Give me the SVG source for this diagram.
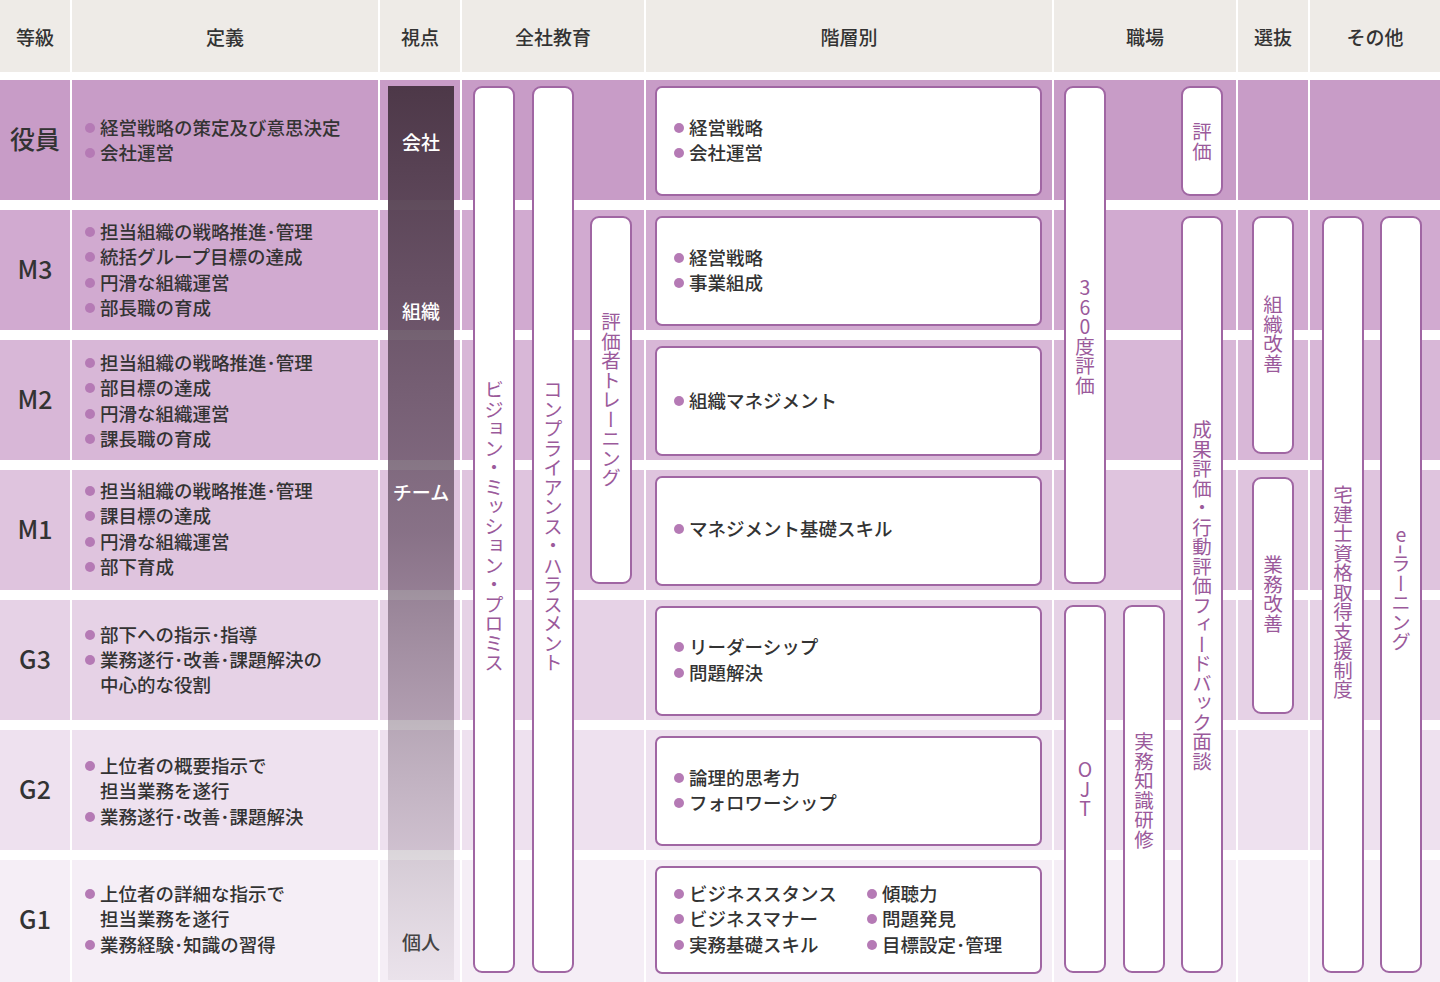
<svg xmlns="http://www.w3.org/2000/svg" width="1440" height="982" viewBox="0 0 1440 982">
<defs>
<style>
text{font-family:"Noto Sans CJK JP","Noto Sans",sans-serif;}
.h{font-size:19px;fill:#333;text-anchor:middle;font-weight:500}
.g{font-size:25px;fill:#333;text-anchor:middle;font-weight:500}
.t{font-size:18.5px;fill:#333;font-weight:500}
.b{fill:#b57ab5}
.w{font-size:19px;fill:#fff;text-anchor:middle;font-weight:500}
.p{fill:#fff;stroke:#a066a3;stroke-width:2}
.v{font-size:19.5px;fill:#9b5a9b;writing-mode:vertical-rl}
.u{text-orientation:upright}
</style>
<linearGradient id="vp" x1="0" y1="0" x2="0" y2="1">
<stop offset="0" stop-color="#4d3848"/>
<stop offset="0.5" stop-color="#6b566a" stop-opacity="0.75"/>
<stop offset="1" stop-color="#8a7a88" stop-opacity="0.1"/>
</linearGradient>
</defs>
<rect width="1440" height="982" fill="#fff"/>
<g id="header" fill="#eeebe7">
<rect x="0" y="0" width="70" height="72"/><rect x="72" y="0" width="306" height="72"/><rect x="380" y="0" width="80" height="72"/><rect x="462" y="0" width="182" height="72"/><rect x="646" y="0" width="406" height="72"/><rect x="1054" y="0" width="182" height="72"/><rect x="1238" y="0" width="70" height="72"/><rect x="1310" y="0" width="130" height="72"/>
</g>
<g id="header-text">
<text class="h" x="35" y="45">等級</text><text class="h" x="225" y="45">定義</text><text class="h" x="420" y="45">視点</text><text class="h" x="553" y="45">全社教育</text><text class="h" x="849" y="45">階層別</text><text class="h" x="1145" y="45">職場</text><text class="h" x="1273" y="45">選抜</text><text class="h" x="1375" y="45">その他</text>
</g>
<g id="rows">
<g fill="#c89cc7"><rect x="0" y="80" width="70" height="120"/><rect x="72" y="80" width="306" height="120"/><rect x="380" y="80" width="80" height="120"/><rect x="462" y="80" width="182" height="120"/><rect x="646" y="80" width="406" height="120"/><rect x="1054" y="80" width="182" height="120"/><rect x="1238" y="80" width="70" height="120"/><rect x="1310" y="80" width="130" height="120"/></g>
<g fill="#d1aad0"><rect x="0" y="210" width="70" height="120"/><rect x="72" y="210" width="306" height="120"/><rect x="380" y="210" width="80" height="120"/><rect x="462" y="210" width="182" height="120"/><rect x="646" y="210" width="406" height="120"/><rect x="1054" y="210" width="182" height="120"/><rect x="1238" y="210" width="70" height="120"/><rect x="1310" y="210" width="130" height="120"/></g>
<g fill="#d8b7d7"><rect x="0" y="340" width="70" height="120"/><rect x="72" y="340" width="306" height="120"/><rect x="380" y="340" width="80" height="120"/><rect x="462" y="340" width="182" height="120"/><rect x="646" y="340" width="406" height="120"/><rect x="1054" y="340" width="182" height="120"/><rect x="1238" y="340" width="70" height="120"/><rect x="1310" y="340" width="130" height="120"/></g>
<g fill="#dfc4de"><rect x="0" y="470" width="70" height="120"/><rect x="72" y="470" width="306" height="120"/><rect x="380" y="470" width="80" height="120"/><rect x="462" y="470" width="182" height="120"/><rect x="646" y="470" width="406" height="120"/><rect x="1054" y="470" width="182" height="120"/><rect x="1238" y="470" width="70" height="120"/><rect x="1310" y="470" width="130" height="120"/></g>
<g fill="#e6d2e6"><rect x="0" y="600" width="70" height="120"/><rect x="72" y="600" width="306" height="120"/><rect x="380" y="600" width="80" height="120"/><rect x="462" y="600" width="182" height="120"/><rect x="646" y="600" width="406" height="120"/><rect x="1054" y="600" width="182" height="120"/><rect x="1238" y="600" width="70" height="120"/><rect x="1310" y="600" width="130" height="120"/></g>
<g fill="#eee1ef"><rect x="0" y="730" width="70" height="120"/><rect x="72" y="730" width="306" height="120"/><rect x="380" y="730" width="80" height="120"/><rect x="462" y="730" width="182" height="120"/><rect x="646" y="730" width="406" height="120"/><rect x="1054" y="730" width="182" height="120"/><rect x="1238" y="730" width="70" height="120"/><rect x="1310" y="730" width="130" height="120"/></g>
<g fill="#f5eef6"><rect x="0" y="860" width="70" height="122"/><rect x="72" y="860" width="306" height="122"/><rect x="380" y="860" width="80" height="122"/><rect x="462" y="860" width="182" height="122"/><rect x="646" y="860" width="406" height="122"/><rect x="1054" y="860" width="182" height="122"/><rect x="1238" y="860" width="70" height="122"/><rect x="1310" y="860" width="130" height="122"/></g>
</g>
<g id="grades">
<text class="g" x="35" y="149">役員</text><text class="g" x="35" y="279">M3</text><text class="g" x="35" y="409">M2</text><text class="g" x="35" y="539">M1</text><text class="g" x="35" y="669">G3</text><text class="g" x="35" y="799">G2</text><text class="g" x="35" y="929">G1</text>
</g>
<g id="definitions">
<g class="b"><circle cx="90" cy="128" r="5"/><circle cx="90" cy="153" r="5"/>
<circle cx="90" cy="232" r="5"/><circle cx="90" cy="257" r="5"/><circle cx="90" cy="283" r="5"/><circle cx="90" cy="308" r="5"/>
<circle cx="90" cy="363" r="5"/><circle cx="90" cy="388" r="5"/><circle cx="90" cy="414" r="5"/><circle cx="90" cy="439" r="5"/>
<circle cx="90" cy="491" r="5"/><circle cx="90" cy="516" r="5"/><circle cx="90" cy="542" r="5"/><circle cx="90" cy="567" r="5"/>
<circle cx="90" cy="635" r="5"/><circle cx="90" cy="660" r="5"/>
<circle cx="90" cy="766" r="5"/><circle cx="90" cy="817" r="5"/>
<circle cx="90" cy="894" r="5"/><circle cx="90" cy="945" r="5"/></g>
<text class="t" x="100" y="135">経営戦略の策定及び意思決定</text><text class="t" x="100" y="160">会社運営</text>
<text class="t" x="100" y="239">担当組織の戦略推進･管理</text><text class="t" x="100" y="264">統括グループ目標の達成</text><text class="t" x="100" y="290">円滑な組織運営</text><text class="t" x="100" y="315">部長職の育成</text>
<text class="t" x="100" y="370">担当組織の戦略推進･管理</text><text class="t" x="100" y="395">部目標の達成</text><text class="t" x="100" y="421">円滑な組織運営</text><text class="t" x="100" y="446">課長職の育成</text>
<text class="t" x="100" y="498">担当組織の戦略推進･管理</text><text class="t" x="100" y="523">課目標の達成</text><text class="t" x="100" y="549">円滑な組織運営</text><text class="t" x="100" y="574">部下育成</text>
<text class="t" x="100" y="642">部下への指示･指導</text><text class="t" x="100" y="667">業務遂行･改善･課題解決の</text><text class="t" x="100" y="692">中心的な役割</text>
<text class="t" x="100" y="773">上位者の概要指示で</text><text class="t" x="100" y="798">担当業務を遂行</text><text class="t" x="100" y="824">業務遂行･改善･課題解決</text>
<text class="t" x="100" y="901">上位者の詳細な指示で</text><text class="t" x="100" y="926">担当業務を遂行</text><text class="t" x="100" y="952">業務経験･知識の習得</text>
</g>
<g id="viewpoint">
<rect x="388" y="86" width="66" height="894" fill="url(#vp)"/>
<text class="w" x="421" y="150">会社</text><text class="w" x="421" y="319">組織</text><text class="w" x="421" y="500">チーム</text><text class="w" x="421" y="950" style="fill:#444">個人</text>
</g>
<g id="company-edu">
<rect class="p" x="474" y="87" width="40" height="885" rx="8"/><text class="v" x="494" y="380">ビジョン・ミッション・プロミス</text>
<rect class="p" x="533" y="87" width="40" height="885" rx="8"/><text class="v" x="553" y="380">コンプライアンス・ハラスメント</text>
<rect class="p" x="591" y="217" width="40" height="366" rx="8"/><text class="v" x="611" y="312">評価者トレーニング</text>
</g>
<g id="tiers">
<rect class="p" x="656" y="87" width="385" height="108" rx="6"/><rect class="p" x="656" y="217" width="385" height="108" rx="6"/><rect class="p" x="656" y="347" width="385" height="108" rx="6"/><rect class="p" x="656" y="477" width="385" height="108" rx="6"/><rect class="p" x="656" y="607" width="385" height="108" rx="6"/><rect class="p" x="656" y="737" width="385" height="108" rx="6"/><rect class="p" x="656" y="867" width="385" height="106" rx="6"/>
<g class="b"><circle cx="679" cy="128" r="5"/><circle cx="679" cy="153" r="5"/><circle cx="679" cy="258" r="5"/><circle cx="679" cy="283" r="5"/><circle cx="679" cy="401" r="5"/><circle cx="679" cy="529" r="5"/><circle cx="679" cy="647" r="5"/><circle cx="679" cy="673" r="5"/><circle cx="679" cy="778" r="5"/><circle cx="679" cy="803" r="5"/><circle cx="679" cy="894" r="5"/><circle cx="679" cy="919" r="5"/><circle cx="679" cy="945" r="5"/><circle cx="872" cy="894" r="5"/><circle cx="872" cy="919" r="5"/><circle cx="872" cy="945" r="5"/></g>
<text class="t" x="689" y="135">経営戦略</text><text class="t" x="689" y="160">会社運営</text>
<text class="t" x="689" y="265">経営戦略</text><text class="t" x="689" y="290">事業組成</text>
<text class="t" x="689" y="408">組織マネジメント</text>
<text class="t" x="689" y="536">マネジメント基礎スキル</text>
<text class="t" x="689" y="654">リーダーシップ</text><text class="t" x="689" y="680">問題解決</text>
<text class="t" x="689" y="785">論理的思考力</text><text class="t" x="689" y="810">フォロワーシップ</text>
<text class="t" x="689" y="901">ビジネススタンス</text><text class="t" x="689" y="926">ビジネスマナー</text><text class="t" x="689" y="952">実務基礎スキル</text>
<text class="t" x="882" y="901">傾聴力</text><text class="t" x="882" y="926">問題発見</text><text class="t" x="882" y="952">目標設定･管理</text>
</g>
<g id="workplace">
<rect class="p" x="1065" y="87" width="40" height="496" rx="8"/><text class="v" x="1085" y="278"><tspan class="u">360</tspan>度評価</text>
<rect class="p" x="1182" y="87" width="40" height="108" rx="8"/><text class="v" x="1202" y="122">評価</text>
<rect class="p" x="1182" y="217" width="40" height="755" rx="8"/><text class="v" x="1202" y="420">成果評価・行動評価フィードバック面談</text>
<rect class="p" x="1065" y="606" width="40" height="366" rx="8"/><text class="v u" x="1085" y="760">OJT</text>
<rect class="p" x="1124" y="606" width="40" height="366" rx="8"/><text class="v" x="1144" y="732">実務知識研修</text>
</g>
<g id="selection">
<rect class="p" x="1253" y="217" width="40" height="236" rx="8"/><text class="v" x="1273" y="295">組織改善</text>
<rect class="p" x="1253" y="478" width="40" height="235" rx="8"/><text class="v" x="1273" y="555">業務改善</text>
</g>
<g id="other">
<rect class="p" x="1323" y="217" width="40" height="755" rx="8"/><text class="v" x="1343" y="485">宅建士資格取得支援制度</text>
<rect class="p" x="1381" y="217" width="40" height="755" rx="8"/><text class="v" x="1401" y="525"><tspan class="u">e</tspan>ｰラーニング</text>
</g>
</svg>
